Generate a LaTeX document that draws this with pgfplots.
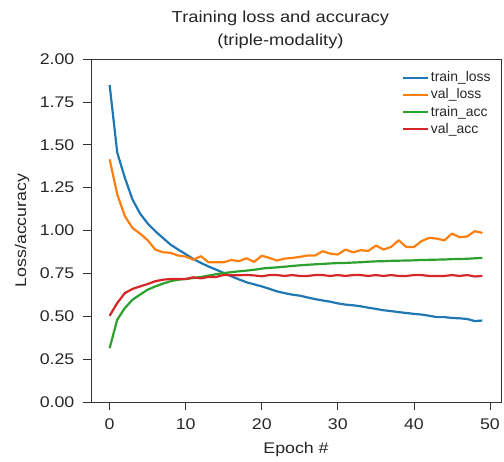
\documentclass[border=0pt]{standalone}
\usepackage{fontspec}
\setmainfont{Liberation Sans}
\usepackage{pgfplots}
\pgfplotsset{compat=1.18}
\definecolor{tabblue}{HTML}{1F77B4}
\definecolor{taborange}{HTML}{FF7F0E}
\definecolor{tabgreen}{HTML}{2CA02C}
\definecolor{tabred}{HTML}{D62728}

% epoch, train_loss, val_loss, train_acc, val_acc
\pgfplotstableread{
ep tl vl ta va
0 1.848 1.415 0.314 0.503
1 1.454 1.211 0.480 0.577
2 1.308 1.084 0.548 0.635
3 1.181 1.015 0.596 0.659
4 1.099 0.982 0.626 0.674
5 1.041 0.943 0.655 0.688
6 0.996 0.889 0.674 0.704
7 0.957 0.873 0.690 0.713
8 0.918 0.870 0.704 0.717
9 0.889 0.854 0.713 0.717
10 0.862 0.848 0.717 0.717
11 0.834 0.830 0.723 0.727
12 0.811 0.850 0.729 0.721
13 0.790 0.815 0.737 0.729
14 0.772 0.815 0.745 0.729
15 0.752 0.815 0.752 0.741
16 0.733 0.828 0.757 0.739
17 0.715 0.821 0.762 0.739
18 0.698 0.838 0.766 0.741
19 0.686 0.817 0.771 0.738
20 0.674 0.853 0.778 0.733
21 0.660 0.840 0.782 0.740
22 0.645 0.825 0.785 0.740
23 0.635 0.836 0.789 0.735
24 0.626 0.840 0.793 0.740
25 0.620 0.846 0.797 0.735
26 0.610 0.854 0.800 0.735
27 0.600 0.854 0.803 0.740
28 0.592 0.879 0.805 0.740
29 0.585 0.865 0.808 0.735
30 0.575 0.860 0.810 0.740
31 0.568 0.889 0.811 0.735
32 0.564 0.873 0.813 0.740
33 0.558 0.885 0.815 0.740
34 0.550 0.881 0.818 0.735
35 0.543 0.912 0.820 0.740
36 0.535 0.889 0.821 0.735
37 0.530 0.904 0.823 0.740
38 0.524 0.943 0.824 0.735
39 0.519 0.904 0.825 0.735
40 0.514 0.904 0.826 0.740
41 0.510 0.938 0.828 0.740
42 0.503 0.957 0.829 0.735
43 0.495 0.953 0.830 0.735
44 0.495 0.942 0.831 0.735
45 0.490 0.982 0.833 0.740
46 0.488 0.961 0.834 0.735
47 0.484 0.965 0.835 0.740
48 0.472 0.996 0.838 0.732
49 0.475 0.986 0.840 0.735
}\hist

\begin{document}
\begin{tikzpicture}
\begin{axis}[
  name=ax,
  scale only axis, width=410bp, height=343bp,
  xmin=-2.45, xmax=51.45, ymin=0, ymax=2,
  xtick={0,10,...,50}, ytick={0,0.25,...,2},
  yticklabel style={/pgf/number format/fixed,/pgf/number format/fixed zerofill,/pgf/number format/precision=2, xshift=-4bp},
  xticklabel style={yshift=-5bp},
  /pgf/number format/assume math mode=true,
  tick label style={font=\fontsize{15.5}{18}\selectfont, xscale=1.15, text=black!85},
  label style={font=\fontsize{15.5}{18}\selectfont, xscale=1.15, text=black!85},
  axis line style={black!80, line width=0.7pt},
  tick style={black!80, line width=0.7pt},
  tick align=outside, major tick length=8bp,
  xtick pos=bottom, ytick pos=left,
  xlabel={Epoch \#}, ylabel={Loss/accuracy},
  xlabel style={yshift=-6bp},
  ylabel shift=3bp,
  title={Training loss and accuracy\\(triple-modality)},
  title style={font=\fontsize{16}{23}\selectfont, xscale=1.15, align=center, text=black!85, at={(rel axis cs:0.462,1)}, anchor=south, yshift=1bp},
  legend style={at={(rel axis cs:0.985,0.975)}, anchor=north east, draw=none, fill=white,
    font=\fontsize{14}{16}\selectfont, text=black!85, row sep=1.5bp, inner sep=2bp},
  legend cell align=left,
  legend image code/.code={\draw[#1, line width=2pt] (0bp,0bp) -- (25bp,0bp);},
  every axis plot/.append style={line width=2.2pt, line join=round},
  clip=false,
]
\addplot[tabblue] table[x=ep,y=tl] {\hist};
\addplot[taborange] table[x=ep,y=vl] {\hist};
\addplot[tabgreen] table[x=ep,y=ta] {\hist};
\addplot[tabred] table[x=ep,y=va] {\hist};
\legend{train\_loss,val\_loss,train\_acc,val\_acc}
\end{axis}
\pgfresetboundingbox
\path ([shift={(-91bp,-60bp)}]ax.south west) rectangle ([shift={(3bp,59bp)}]ax.north east);
\end{tikzpicture}
\end{document}
